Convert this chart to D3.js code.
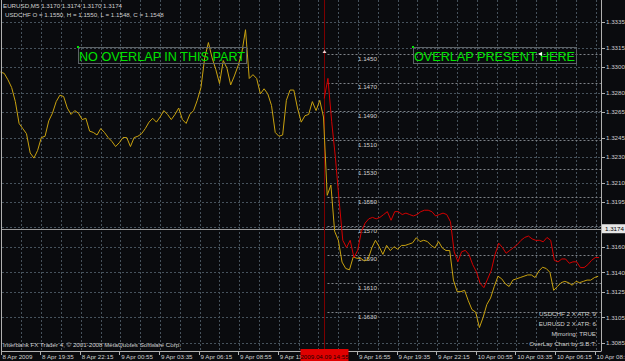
<!DOCTYPE html>
<html>
<head>
<meta charset="utf-8">
<script src="https://cdn.jsdelivr.net/npm/d3@7"></script>
<style>
  body { margin: 0; background: #0a0b0e; }
  text { font-family: "Liberation Sans", Arial, sans-serif; }
</style>
</head>
<body>
<svg id="chart" width="625" height="361"></svg>
<script>
// EURUSD closes, one every 15 minutes from 8 Apr 2009 16:55
const eurStart = new Date(2009, 3, 8, 16, 55);
const eurValues = [
  1.3296, 1.3295, 1.3290, 1.3284, 1.3273, 1.3256, 1.3252, 1.3248, 1.3233, 1.3229,
  1.3235, 1.3245, 1.3246, 1.3258, 1.3264, 1.3273, 1.3278, 1.3277, 1.3268, 1.3263,
  1.3266, 1.3264, 1.3259, 1.3260, 1.3250, 1.3249, 1.3247, 1.3252, 1.3249, 1.3245,
  1.3242, 1.3238, 1.3241, 1.3245, 1.3245, 1.3238, 1.3245, 1.3246, 1.3248, 1.3252,
  1.3257, 1.3260, 1.3257, 1.3261, 1.3266, 1.3263, 1.3259, 1.3263, 1.3268, 1.3259,
  1.3256, 1.3263, 1.3266, 1.3274, 1.3284, 1.3307, 1.3319, 1.3307, 1.3298, 1.3287,
  1.3305, 1.3299, 1.3286, 1.3293, 1.3301, 1.3311, 1.3329, 1.3291, 1.3294, 1.3291,
  1.3279, 1.3283, 1.3279, 1.3270, 1.3249, 1.3246, 1.3247, 1.3274, 1.3282, 1.3282,
  1.3268, 1.3257, 1.3262, 1.3263, 1.3273, 1.3266, 1.3274, 1.3261, 1.3200, 1.3208,
  1.3172, 1.3165, 1.3148, 1.3143, 1.3142, 1.3152, 1.3151, 1.3151, 1.3149, 1.3150,
  1.3159, 1.3165, 1.3160, 1.3154, 1.3161, 1.3157, 1.3160, 1.3158, 1.3161, 1.3161,
  1.3162, 1.3163, 1.3167, 1.3164, 1.3165, 1.3164, 1.3161, 1.3159, 1.3164, 1.3159,
  1.3157, 1.3157, 1.3134, 1.3125, 1.3125, 1.3126, 1.3118, 1.3111, 1.3109, 1.3097,
  1.3105, 1.3115, 1.3120, 1.3129, 1.3137, 1.3135, 1.3131, 1.3129, 1.3134, 1.3135,
  1.3136, 1.3137, 1.3138, 1.3138, 1.3136, 1.3141, 1.3144, 1.3143, 1.3140, 1.3126,
  1.3129, 1.3132, 1.3133, 1.3132, 1.3130, 1.3133, 1.3132, 1.3133, 1.3134, 1.3134,
  1.3136, 1.3137
];

// USDCHF overlay (mirrored), one every 15 minutes from the marker line
const chfStart = new Date(2009, 3, 9, 14, 43);
const chfValues = [
  1.1481, 1.1467, 1.1497, 1.1522, 1.1552, 1.1580, 1.1585, 1.1580, 1.1592, 1.1587,
  1.1574, 1.1568, 1.1565, 1.1564, 1.1565, 1.1564, 1.1562, 1.1560, 1.1566, 1.1560,
  1.1560, 1.1562, 1.1561, 1.1562, 1.1563, 1.1562, 1.1560, 1.1559, 1.1559, 1.1560,
  1.1563, 1.1562, 1.1561, 1.1562, 1.1567, 1.1588, 1.1595, 1.1588, 1.1587, 1.1590,
  1.1597, 1.1602, 1.1610, 1.1613, 1.1607, 1.1601, 1.1590, 1.1582, 1.1585, 1.1589,
  1.1587, 1.1585, 1.1583, 1.1580, 1.1578, 1.1577, 1.1579, 1.1580, 1.1580, 1.1581,
  1.1578, 1.1580, 1.1594, 1.1595, 1.1593, 1.1593, 1.1596, 1.1595, 1.1595, 1.1599,
  1.1599, 1.1597, 1.1594, 1.1592, 1.1592
];
const stepMinutes = 15;

const eurTicks = [1.3335, 1.3315, 1.3300, 1.3280, 1.3265, 1.3245, 1.3230, 1.3210,
                  1.3195, 1.3160, 1.3140, 1.3125, 1.3105, 1.3085];
const chfTicks = [1.1450, 1.1470, 1.1490, 1.1510, 1.1530, 1.1550, 1.1570, 1.1590, 1.1610, 1.1630];
const currentPrice = 1.3174;

const timeTicks = ["2009-04-08 16:55", "2009-04-08 19:35", "2009-04-08 22:15", "2009-04-09 00:55",
                   "2009-04-09 03:35", "2009-04-09 06:15", "2009-04-09 08:55", "2009-04-09 11:35",
                   "2009-04-09 14:15", "2009-04-09 16:55", "2009-04-09 19:35", "2009-04-09 22:15",
                   "2009-04-10 00:55", "2009-04-10 03:35", "2009-04-10 06:15", "2009-04-10 08:55"];
const timeLabels = ["8 Apr 2009", "8 Apr 19:35", "8 Apr 22:15", "9 Apr 00:55", "9 Apr 03:35",
                    "9 Apr 06:15", "9 Apr 08:55", "9 Apr 11:35", "9 Apr 14:15", "9 Apr 16:55",
                    "9 Apr 19:35", "9 Apr 22:15", "10 Apr 00:55", "10 Apr 03:35", "10 Apr 06:15",
                    "10 Apr 08:55"];
const markerLabel = "2009.04.09 14:55";

const headerLines = ["EURUSD,M5  1.3170 1.3174 1.3170 1.3174",
                     "USDCHF O = 1.1550, H = 1.1550, L = 1.1548, C = 1.1548"];
const infoLines = ["USDCHF 2 X ATR: 9", "EURUSD 2 X ATR: 6", "Mirroring: TRUE", "OverLay Chart by S.B.T."];
const copyright = "Interbank FX Trader 4, \u00a9 2001-2008 MetaQuotes Software Corp.";

const ctx = {
  left: 2, right: 601, top: 0, bottom: 351,
  grid: "#46525c", chfGrid: "#7e8388", axisText: "#cfcfcf",
  yellow: "#c9a20f", red: "#d40000", marker: "#7c0000", green: "#00e400"
};

const svg = d3.select("#chart");
svg.append("rect").attr("width", 625).attr("height", 361).attr("fill", "#0a0b0e");

const parse = d3.timeParse("%Y-%m-%d %H:%M");
const x = d3.scaleTime()
  .domain([parse(timeTicks[0]), parse(timeTicks[timeTicks.length - 1])])
  .range([0.5, 594.5]);
const yEur = d3.scaleLinear().domain([1.3085, 1.3335]).range([343, 22]);
const yChf = d3.scaleLinear().domain([1.1450, 1.1630]).range([54, 312]);

const addMin = (d, m) => new Date(d.getTime() + m * 60000);

// vertical grid every 80 minutes
let gridTimes = d3.range(0, 31).map(i => addMin(parse(timeTicks[0]), 80 * i))
  .filter(t => x(t) > ctx.left + 2 && x(t) < ctx.right - 1);
svg.append("g").selectAll("line").data(gridTimes).enter().append("line")
  .attr("x1", d => Math.round(x(d)) + 1.5).attr("x2", d => Math.round(x(d)) + 1.5)
  .attr("y1", ctx.top).attr("y2", ctx.bottom)
  .attr("stroke", ctx.grid).attr("stroke-dasharray", "2,2");

// horizontal grid at price labels
svg.append("g").selectAll("line").data(eurTicks.concat([1.3175])).enter().append("line")
  .attr("x1", ctx.left).attr("x2", ctx.right)
  .attr("y1", d => Math.round(yEur(d)) + 0.5).attr("y2", d => Math.round(yEur(d)) + 0.5)
  .attr("stroke", ctx.grid).attr("stroke-dasharray", "2,2");

// overlay price levels, from the marker to the right edge
const markerX = Math.round(x(chfStart)) + 0.5;
let chfGrid = svg.append("g");
chfGrid.selectAll("line").data(chfTicks).enter().append("line")
  .attr("x1", markerX + 3).attr("x2", ctx.right)
  .attr("y1", d => Math.round(yChf(d)) + 0.5).attr("y2", d => Math.round(yChf(d)) + 0.5)
  .attr("stroke", ctx.chfGrid).attr("stroke-dasharray", "2,2");
chfGrid.selectAll("text").data(chfTicks).enter().append("text")
  .attr("x", 358).attr("y", d => yChf(d) + 6.5)
  .attr("font-size", 6.2).attr("fill", ctx.axisText)
  .text(d => d.toFixed(4));

// current price line
svg.append("line")
  .attr("x1", ctx.left).attr("x2", ctx.right)
  .attr("y1", Math.round(yEur(currentPrice)) + 0.5).attr("y2", Math.round(yEur(currentPrice)) + 0.5)
  .attr("stroke", "#9a9a9a");

// marker vertical line
svg.append("line")
  .attr("x1", markerX).attr("x2", markerX)
  .attr("y1", ctx.top).attr("y2", ctx.bottom)
  .attr("stroke", ctx.marker);

// series
let eurData = eurValues.map((v, i) => ({t: addMin(eurStart, i * stepMinutes), v: v}));
let chfData = chfValues.map((v, i) => ({t: addMin(chfStart, i * stepMinutes), v: v}));

svg.append("path").datum(eurData)
  .attr("d", d3.line().x(d => x(d.t)).y(d => yEur(d.v)))
  .attr("fill", "none").attr("stroke", ctx.yellow).attr("stroke-width", 1);
svg.append("path").datum(chfData)
  .attr("d", d3.line().x(d => x(d.t)).y(d => yChf(d.v)))
  .attr("fill", "none").attr("stroke", ctx.red).attr("stroke-width", 1);

// borders
svg.append("line").attr("x1", 1.5).attr("x2", 1.5).attr("y1", 0).attr("y2", ctx.bottom)
  .attr("stroke", "#b0b0b0");
svg.append("line").attr("x1", ctx.right + 0.5).attr("x2", ctx.right + 0.5).attr("y1", 0).attr("y2", ctx.bottom)
  .attr("stroke", "#b0b0b0");
svg.append("line").attr("x1", 1.5).attr("x2", ctx.right + 0.5).attr("y1", ctx.bottom + 0.5).attr("y2", ctx.bottom + 0.5)
  .attr("stroke", "#b0b0b0");

// right axis
let yAxisG = svg.append("g");
yAxisG.selectAll("line").data(eurTicks).enter().append("line")
  .attr("x1", ctx.right + 1).attr("x2", ctx.right + 4)
  .attr("y1", d => Math.round(yEur(d)) + 0.5).attr("y2", d => Math.round(yEur(d)) + 0.5)
  .attr("stroke", "#b0b0b0");
yAxisG.selectAll("text").data(eurTicks).enter().append("text")
  .attr("x", 606).attr("y", d => yEur(d) + 2.3)
  .attr("font-size", 6.2).attr("fill", ctx.axisText)
  .text(d => d.toFixed(4));
svg.append("rect")
  .attr("x", 602).attr("y", yEur(currentPrice) - 4.5).attr("width", 23).attr("height", 9)
  .attr("fill", "#e6e6e6");
svg.append("text")
  .attr("x", 605).attr("y", yEur(currentPrice) + 2.3)
  .attr("font-size", 6.2).attr("fill", "#000")
  .text(currentPrice.toFixed(4));

// time axis (the label under the marker box is hidden by it)
let xAxisG = svg.append("g");
xAxisG.selectAll("line").data(timeTicks).enter().append("line")
  .attr("x1", d => Math.round(x(parse(d))) + 0.5).attr("x2", d => Math.round(x(parse(d))) + 0.5)
  .attr("y1", ctx.bottom).attr("y2", ctx.bottom + 4)
  .attr("stroke", "#b0b0b0");
let shownTicks = timeTicks.map((d, i) => ({t: parse(d), label: timeLabels[i]}))
  .filter(d => Math.abs(x(d.t) - markerX) > 12);
xAxisG.selectAll("text").data(shownTicks).enter().append("text")
  .attr("x", d => x(d.t) + 2).attr("y", 358.5)
  .attr("font-size", 6.2).attr("fill", ctx.axisText)
  .text(d => d.label);

// marker time label
svg.append("rect")
  .attr("x", markerX - 24).attr("y", 349).attr("width", 48).attr("height", 12)
  .attr("fill", "#e00000");
svg.append("text")
  .attr("x", markerX).attr("y", 358.5).attr("text-anchor", "middle")
  .attr("font-size", 6.2).attr("fill", "#200000")
  .text(markerLabel);

// header
svg.selectAll(".hdr").data(headerLines).enter().append("text").classed("hdr", true)
  .attr("x", (d, i) => i ? 5 : 3).attr("y", (d, i) => 8 + i * 9)
  .attr("font-size", 6.2).attr("fill", ctx.axisText)
  .text(d => d);

// green notes with frames
const notes = [
  {text: "NO OVERLAP IN THIS PART", x0: 78, x1: 246},
  {text: "OVERLAP PRESENT HERE", x0: 413, x1: 576}
];
notes.forEach(n => {
  svg.append("rect").attr("x", n.x0 + 0.5).attr("y", 47.5).attr("width", n.x1 - n.x0).attr("height", 16)
    .attr("fill", "none").attr("stroke", "#5c6266");
  svg.append("rect").attr("x", n.x0 - 1).attr("y", 46).attr("width", 2).attr("height", 2).attr("fill", ctx.green);
  svg.append("text").attr("x", n.x0 + 1).attr("y", 60.5)
    .attr("font-size", 13).attr("fill", ctx.green)
    .attr("textLength", n.x1 - n.x0 - 2).attr("lengthAdjust", "spacingAndGlyphs")
    .text(n.text);
});
// small arrow marks
svg.append("path").attr("d", `M${markerX - 2},53 L${markerX + 2},53 L${markerX},50 Z`).attr("fill", "#f0d0d0");
svg.append("path").attr("d", "M538,54 L542,52 L542,56 Z").attr("fill", "#ffffff");

// info texts bottom right
svg.selectAll(".info").data(infoLines).enter().append("text").classed("info", true)
  .attr("x", 596).attr("y", (d, i) => [316, 326, 336, 346][i])
  .attr("text-anchor", "end")
  .attr("font-size", 6.2).attr("fill", ctx.axisText)
  .text(d => d);

svg.append("text").attr("x", 3).attr("y", 347)
  .attr("font-size", 6.2).attr("fill", ctx.axisText)
  .text(copyright);
</script>
</body>
</html>
